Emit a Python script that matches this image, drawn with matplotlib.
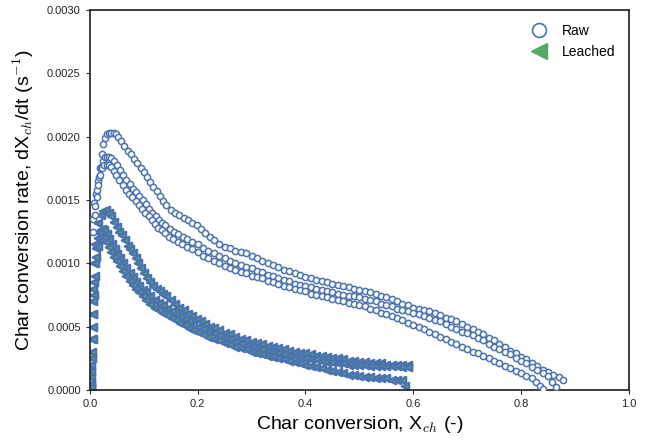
import numpy as np
import matplotlib
matplotlib.use("Agg")
import matplotlib.pyplot as plt
from matplotlib.lines import Line2D

plt.rcParams['font.family'] = ['Liberation Sans', 'DejaVu Sans']
plt.rcParams['mathtext.fontset'] = 'cm'

blue = '#4C72B0'
green = '#55A868'

# raw char, three runs (conversion, rate in 1e-4 1/s)
raw_a_x = [0.008, 0.012, 0.016, 0.019, 0.022, 0.025, 0.028, 0.032, 0.036, 0.040, 0.044, 0.048, 0.052,
           0.058, 0.064, 0.070, 0.076, 0.082, 0.088, 0.094, 0.100, 0.106, 0.112, 0.118, 0.124, 0.130,
           0.136, 0.142, 0.150, 0.158, 0.166, 0.174, 0.182, 0.190, 0.198, 0.206, 0.214, 0.222, 0.230,
           0.240, 0.250, 0.260, 0.270, 0.280, 0.290, 0.300, 0.310, 0.320, 0.330, 0.340, 0.350, 0.360,
           0.370, 0.380, 0.390, 0.400, 0.410, 0.420, 0.430, 0.440, 0.450, 0.460, 0.470, 0.480, 0.490,
           0.500, 0.510, 0.520, 0.530, 0.540, 0.550, 0.560, 0.570, 0.580, 0.590, 0.600, 0.610, 0.620,
           0.630, 0.640, 0.650, 0.660, 0.670, 0.680, 0.690, 0.700, 0.710, 0.720, 0.730, 0.740, 0.750,
           0.760, 0.770, 0.780, 0.790, 0.800, 0.810, 0.820, 0.830, 0.840, 0.850, 0.860, 0.870, 0.878]
raw_a_y = [14.8, 15.5, 16.5, 17.5, 18.6, 19.4, 19.9, 20.2, 20.3, 20.3, 20.3, 20.2, 20.0,
           19.7, 19.3, 18.9, 18.6, 18.2, 17.9, 17.5, 17.2, 16.8, 16.4, 16.0, 15.7, 15.3,
           14.9, 14.6, 14.2, 14.0, 13.8, 13.6, 13.4, 13.2, 13.0, 12.7, 12.4, 12.1, 11.8,
           11.5, 11.3, 11.2, 11.0, 10.9, 10.8, 10.6, 10.4, 10.2, 10.0, 9.9, 9.7, 9.5,
           9.4, 9.2, 9.1, 8.9, 8.8, 8.7, 8.6, 8.5, 8.4, 8.3, 8.2, 8.1, 8.0,
           7.9, 7.8, 7.7, 7.6, 7.4, 7.3, 7.2, 7.0, 6.8, 6.7, 6.5, 6.4, 6.3,
           6.2, 6.1, 5.9, 5.7, 5.6, 5.4, 5.2, 5.0, 4.8, 4.6, 4.4, 4.1, 3.9,
           3.6, 3.4, 3.1, 2.9, 2.6, 2.4, 2.1, 1.9, 1.6, 1.4, 1.2, 1.0, 0.8]

raw_b_x = [0.006, 0.010, 0.014, 0.017, 0.020, 0.024, 0.028, 0.032, 0.036, 0.040, 0.045, 0.050, 0.056,
           0.062, 0.068, 0.074, 0.080, 0.086, 0.092, 0.098, 0.104, 0.110, 0.116, 0.122, 0.128, 0.134,
           0.140, 0.148, 0.156, 0.164, 0.172, 0.180, 0.190, 0.200, 0.210, 0.220, 0.230, 0.240, 0.250,
           0.260, 0.270, 0.280, 0.290, 0.300, 0.310, 0.320, 0.330, 0.340, 0.350, 0.360, 0.370, 0.380,
           0.390, 0.400, 0.410, 0.420, 0.430, 0.440, 0.450, 0.460, 0.470, 0.480, 0.490, 0.500, 0.510,
           0.520, 0.530, 0.540, 0.550, 0.560, 0.570, 0.580, 0.590, 0.600, 0.610, 0.620, 0.630, 0.640,
           0.650, 0.660, 0.670, 0.680, 0.690, 0.700, 0.710, 0.720, 0.730, 0.740, 0.750, 0.760, 0.770,
           0.780, 0.790, 0.800, 0.810, 0.820, 0.830, 0.840, 0.850, 0.858, 0.865]
raw_b_y = [13.5, 14.5, 15.8, 16.8, 17.6, 18.1, 18.4, 18.4, 18.4, 18.3, 18.1, 17.8, 17.4,
           17.0, 16.6, 16.3, 15.9, 15.6, 15.3, 15.0, 14.7, 14.3, 14.0, 13.7, 13.4, 13.2,
           13.0, 12.7, 12.5, 12.3, 12.1, 11.9, 11.7, 11.5, 11.2, 11.0, 10.8, 10.6, 10.4,
           10.2, 10.0, 9.9, 9.7, 9.6, 9.4, 9.3, 9.1, 9.0, 8.8, 8.7, 8.6, 8.4,
           8.3, 8.2, 8.1, 8.0, 7.9, 7.8, 7.7, 7.6, 7.5, 7.4, 7.4, 7.3, 7.2,
           7.1, 7.0, 6.8, 6.7, 6.6, 6.4, 6.3, 6.2, 6.1, 6.0, 5.8, 5.7, 5.5,
           5.4, 5.2, 5.0, 4.8, 4.6, 4.5, 4.3, 4.1, 3.9, 3.6, 3.4, 3.2, 3.0,
           2.8, 2.5, 2.3, 2.1, 1.8, 1.6, 1.3, 1.1, 0.6, 0.2]

raw_c_x = [0.005, 0.009, 0.013, 0.016, 0.019, 0.023, 0.027, 0.031, 0.035, 0.039, 0.044, 0.049, 0.055,
           0.061, 0.067, 0.073, 0.079, 0.085, 0.091, 0.097, 0.103, 0.109, 0.115, 0.121, 0.127, 0.133,
           0.139, 0.147, 0.155, 0.163, 0.171, 0.180, 0.190, 0.200, 0.210, 0.220, 0.230, 0.240, 0.250,
           0.260, 0.270, 0.280, 0.290, 0.300, 0.310, 0.320, 0.330, 0.340, 0.350, 0.360, 0.370, 0.380,
           0.390, 0.400, 0.410, 0.420, 0.430, 0.440, 0.450, 0.460, 0.470, 0.480, 0.490, 0.500, 0.510,
           0.520, 0.530, 0.540, 0.550, 0.560, 0.570, 0.580, 0.590, 0.600, 0.610, 0.620, 0.630, 0.640,
           0.650, 0.660, 0.670, 0.680, 0.690, 0.700, 0.710, 0.720, 0.730, 0.740, 0.750, 0.760, 0.770,
           0.780, 0.790, 0.800, 0.810, 0.820, 0.828, 0.835, 0.840]
raw_c_y = [12.5, 13.8, 15.2, 16.2, 17.0, 17.5, 17.8, 17.8, 17.8, 17.6, 17.3, 17.0, 16.6,
           16.2, 15.8, 15.5, 15.2, 14.9, 14.6, 14.3, 14.0, 13.7, 13.4, 13.1, 12.8, 12.6,
           12.4, 12.1, 11.9, 11.7, 11.5, 11.3, 11.1, 10.9, 10.6, 10.4, 10.2, 10.0, 9.8,
           9.6, 9.5, 9.3, 9.2, 9.0, 8.9, 8.8, 8.6, 8.5, 8.4, 8.2, 8.1, 8.0,
           7.9, 7.8, 7.6, 7.5, 7.4, 7.3, 7.2, 7.1, 7.0, 6.9, 6.8, 6.7, 6.6,
           6.4, 6.3, 6.1, 6.0, 5.8, 5.7, 5.5, 5.3, 5.1, 5.0, 4.8, 4.6, 4.4,
           4.2, 4.0, 3.8, 3.6, 3.4, 3.2, 3.0, 2.9, 2.7, 2.5, 2.3, 2.1, 1.9,
           1.7, 1.5, 1.3, 1.1, 0.9, 0.6, 0.3, 0.1]

# leached char, three runs
lea_a_x = [0.002, 0.003, 0.004, 0.005, 0.006, 0.008, 0.010, 0.013, 0.016, 0.020, 0.025, 0.030, 0.035,
           0.040, 0.045, 0.050, 0.055, 0.060, 0.065, 0.070, 0.075, 0.080, 0.085, 0.090, 0.095, 0.100,
           0.106, 0.112, 0.118, 0.124, 0.130, 0.136, 0.142, 0.150, 0.158, 0.166, 0.174, 0.182, 0.190,
           0.198, 0.206, 0.214, 0.222, 0.230, 0.240, 0.250, 0.260, 0.270, 0.280, 0.290, 0.300, 0.310,
           0.320, 0.330, 0.340, 0.350, 0.360, 0.370, 0.380, 0.390, 0.400, 0.410, 0.420, 0.430, 0.440,
           0.450, 0.460, 0.470, 0.480, 0.490, 0.500, 0.510, 0.520, 0.530, 0.540, 0.550, 0.560, 0.570,
           0.580, 0.590]
lea_a_y = [0.5, 2.0, 4.0, 6.0, 8.0, 10.0, 11.5, 12.5, 13.2, 13.8, 14.1, 14.2, 14.0,
           13.7, 13.3, 12.9, 12.5, 12.2, 11.8, 11.4, 11.1, 10.8, 10.4, 10.0, 9.6, 9.2,
           8.8, 8.5, 8.2, 8.0, 7.8, 7.6, 7.4, 7.1, 6.8, 6.5, 6.3, 6.0, 5.8,
           5.6, 5.4, 5.2, 5.0, 4.9, 4.7, 4.5, 4.4, 4.2, 4.0, 3.9, 3.8, 3.7,
           3.6, 3.5, 3.4, 3.3, 3.2, 3.1, 3.0, 2.9, 2.9, 2.8, 2.7, 2.7, 2.6,
           2.5, 2.5, 2.4, 2.3, 2.3, 2.2, 2.2, 2.1, 2.1, 2.1, 2.0, 2.0, 2.0,
           2.0, 2.0]

lea_b_x = [0.002, 0.003, 0.004, 0.005, 0.006, 0.007, 0.009, 0.012, 0.015, 0.019, 0.023, 0.027, 0.031,
           0.036, 0.041, 0.046, 0.051, 0.056, 0.062, 0.068, 0.074, 0.080, 0.086, 0.092, 0.098, 0.105,
           0.112, 0.120, 0.128, 0.136, 0.144, 0.152, 0.160, 0.168, 0.176, 0.184, 0.192, 0.200, 0.210,
           0.220, 0.230, 0.240, 0.250, 0.260, 0.270, 0.280, 0.290, 0.300, 0.310, 0.320, 0.330, 0.340,
           0.350, 0.360, 0.370, 0.380, 0.390, 0.400, 0.410, 0.420, 0.430, 0.440, 0.450, 0.460, 0.470,
           0.480, 0.490, 0.500, 0.510, 0.520, 0.530, 0.540, 0.550, 0.560, 0.570, 0.580, 0.590]
lea_b_y = [0.3, 1.5, 3.0, 5.0, 7.0, 8.5, 10.0, 11.2, 12.0, 12.5, 12.7, 12.6, 12.3,
           11.9, 11.5, 11.1, 10.7, 10.4, 10.0, 9.6, 9.2, 8.9, 8.5, 8.2, 7.9, 7.7,
           7.4, 7.1, 6.9, 6.7, 6.4, 6.2, 6.0, 5.8, 5.6, 5.4, 5.2, 5.0, 4.8,
           4.6, 4.5, 4.3, 4.1, 4.0, 3.8, 3.7, 3.5, 3.4, 3.3, 3.2, 3.1, 3.0,
           2.9, 2.8, 2.7, 2.7, 2.6, 2.5, 2.4, 2.4, 2.3, 2.2, 2.2, 2.1, 2.1,
           2.0, 2.0, 2.0, 2.0, 1.9, 1.9, 1.9, 1.9, 1.9, 1.9, 1.8, 1.8]

lea_c_x = [0.002, 0.003, 0.004, 0.005, 0.006, 0.007, 0.009, 0.012, 0.015, 0.018, 0.022, 0.026, 0.030,
           0.035, 0.040, 0.045, 0.050, 0.056, 0.062, 0.068, 0.074, 0.080, 0.086, 0.092, 0.098, 0.105,
           0.112, 0.120, 0.128, 0.136, 0.144, 0.152, 0.160, 0.168, 0.176, 0.184, 0.192, 0.200, 0.210,
           0.220, 0.230, 0.240, 0.250, 0.260, 0.270, 0.280, 0.290, 0.300, 0.310, 0.320, 0.330, 0.340,
           0.350, 0.360, 0.370, 0.380, 0.390, 0.400, 0.410, 0.420, 0.430, 0.440, 0.450, 0.460, 0.470,
           0.480, 0.490, 0.500, 0.510, 0.520, 0.530, 0.540, 0.550, 0.560, 0.570, 0.580, 0.585]
lea_c_y = [0.2, 1.0, 2.5, 4.0, 6.0, 7.5, 9.0, 10.5, 11.4, 11.9, 12.1, 12.0, 11.7,
           11.3, 10.9, 10.5, 10.2, 9.8, 9.4, 9.0, 8.6, 8.3, 8.0, 7.7, 7.4, 7.1,
           6.8, 6.5, 6.3, 6.1, 5.9, 5.7, 5.5, 5.3, 5.1, 4.9, 4.7, 4.6, 4.4,
           4.2, 4.0, 3.9, 3.7, 3.6, 3.4, 3.3, 3.2, 3.0, 2.9, 2.8, 2.7, 2.6,
           2.5, 2.4, 2.3, 2.2, 2.1, 2.0, 1.9, 1.8, 1.7, 1.6, 1.5, 1.4, 1.3,
           1.2, 1.2, 1.1, 1.0, 1.0, 0.9, 0.9, 0.9, 0.8, 0.8, 0.8, 0.3]

raw_runs = [(raw_a_x, raw_a_y), (raw_b_x, raw_b_y), (raw_c_x, raw_c_y)]
lea_runs = [(lea_a_x, lea_a_y), (lea_b_x, lea_b_y), (lea_c_x, lea_c_y)]

fig = plt.figure(figsize=(6.51, 4.41), dpi=100)
ax = fig.add_axes([0.138, 0.116, 0.828, 0.861])

for x, y in lea_runs:
    ax.scatter(x, np.array(y) * 1e-4, marker='<', s=26, facecolor=green,
               edgecolor=blue, linewidth=1.8, zorder=2)
for x, y in raw_runs:
    ax.scatter(x, np.array(y) * 1e-4, marker='o', s=20, facecolor='white',
               edgecolor=blue, linewidth=1.1, zorder=3)

ax.set_xlim(0, 1.0)
ax.set_ylim(0, 0.003)
ax.set_xticks([0.0, 0.2, 0.4, 0.6, 0.8, 1.0])
ax.set_yticks(np.arange(0, 0.00301, 0.0005))
ax.yaxis.set_major_formatter(matplotlib.ticker.FormatStrFormatter('%.4f'))
ax.tick_params(labelsize=8, length=3, width=0.8, direction='out', colors='#262626',
               top=False, right=False)
for s in ax.spines.values():
    s.set_color('#262626')
    s.set_linewidth(1.25)

ax.set_xlabel('Char conversion, X$_{ch}$ (-)', fontsize=14, labelpad=4)
ax.set_ylabel('Char conversion rate, dX$_{ch}$/dt (s$^{-1}$)', fontsize=14, labelpad=8)

handles = [Line2D([], [], linestyle='none', marker='o', markersize=10, markerfacecolor='white',
                  markeredgecolor=blue, markeredgewidth=1.2),
           Line2D([], [], linestyle='none', marker='<', markersize=12, markerfacecolor=green,
                  markeredgecolor=green)]
ax.legend(handles, ['Raw', 'Leached'], loc='upper right', frameon=False, fontsize=10,
          handletextpad=0.6, borderaxespad=0.6)

fig.savefig('out.png', dpi=100)
